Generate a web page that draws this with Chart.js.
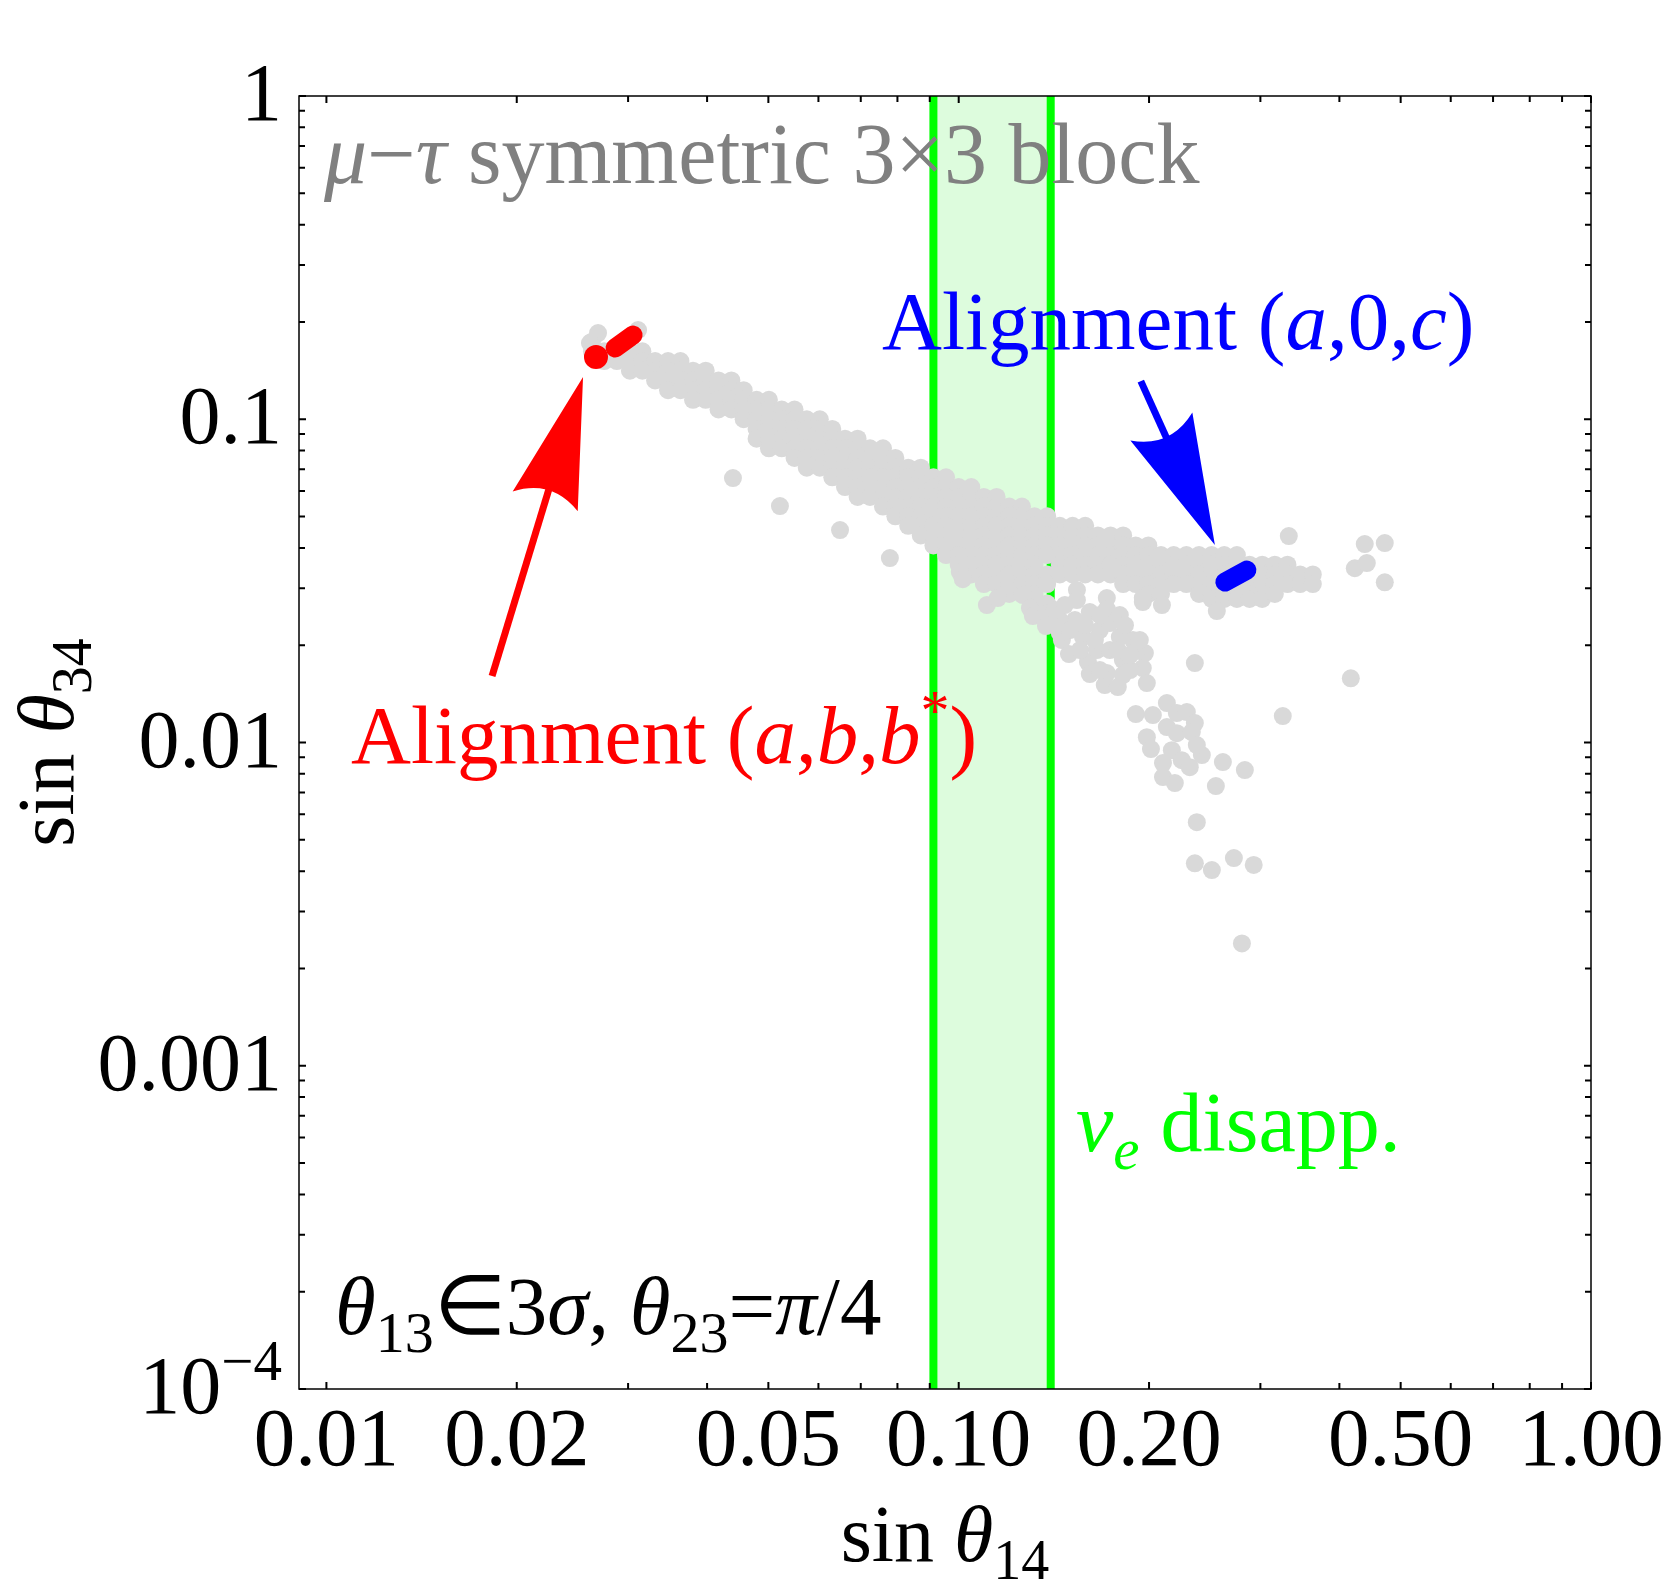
<!DOCTYPE html>
<html>
<head>
<meta charset="utf-8">
<script src="https://cdn.jsdelivr.net/npm/chart.js@4.4.0/dist/chart.umd.min.js"></script>
<style>
  html, body { margin: 0; padding: 0; background: #fff; }
  #scatter-chart { display: block; }
</style>
</head>
<body>
<canvas id="scatter-chart" width="1667" height="1586"></canvas>
<script>
// ---- axes ----
const xRange = [0.00905, 1.0];
const yRange = [1e-4, 1];
const xMajorTicks = [0.01, 0.02, 0.05, 0.1, 0.2, 0.5, 1.0];
const xTickLabels = ['0.01', '0.02', '0.05', '0.10', '0.20', '0.50', '1.00'];
const xMinorTicks = [0.03, 0.04, 0.06, 0.07, 0.08, 0.09, 0.3, 0.4, 0.6, 0.7, 0.8, 0.9];
const yMajorTicks = [1e-4, 0.001, 0.01, 0.1, 1];
const yTickLabels = ['10^−4', '0.001', '0.01', '0.1', '1'];
const yMinorTicks = [
  0.0002, 0.0003, 0.0004, 0.0005, 0.0006, 0.0007, 0.0008, 0.0009,
  0.002, 0.003, 0.004, 0.005, 0.006, 0.007, 0.008, 0.009,
  0.02, 0.03, 0.04, 0.05, 0.06, 0.07, 0.08, 0.09,
  0.2, 0.3, 0.4, 0.5, 0.6, 0.7, 0.8, 0.9
];

// nu_e disappearance band (sin theta14)
const disappBand = [0.0912, 0.1398];

// ---- scan points (grey) ----
// main band: columns of sin th14 with the sin th34 values covered in each
const bandX = [0.0263, 0.0275, 0.0288, 0.0302, 0.0316, 0.0331, 0.0347, 0.0363, 0.0380, 0.0398,
  0.0417, 0.0437, 0.0457, 0.0479, 0.0501, 0.0525, 0.0550, 0.0575, 0.0603, 0.0631,
  0.0661, 0.0692, 0.0724, 0.0759, 0.0794, 0.0832, 0.0871, 0.0912, 0.0955, 0.1000,
  0.1047, 0.1096, 0.1148, 0.1202, 0.1259, 0.1318, 0.1380, 0.1445, 0.1514, 0.1585,
  0.1660, 0.1738, 0.1820, 0.1905, 0.1995, 0.2089, 0.2188, 0.2291, 0.2399, 0.2512,
  0.2630, 0.2754, 0.2884, 0.3020, 0.3162, 0.3311, 0.3467, 0.3631];
const bandY = [
  [0.1738, 0.1622],
  [0.1622, 0.1514],
  [0.1622, 0.1514],
  [0.1622, 0.1514, 0.1413],
  [0.1622, 0.1514, 0.1413],
  [0.1514, 0.1413, 0.1318],
  [0.1514, 0.1413, 0.1318, 0.1230],
  [0.1514, 0.1413, 0.1318, 0.1230],
  [0.1413, 0.1318, 0.1230, 0.1148],
  [0.1413, 0.1318, 0.1230, 0.1148],
  [0.1318, 0.1230, 0.1148, 0.1072],
  [0.1318, 0.1230, 0.1148, 0.1072],
  [0.1230, 0.1148, 0.1072, 0.1000],
  [0.1148, 0.1072, 0.1000, 0.0933, 0.0871],
  [0.1148, 0.1072, 0.1000, 0.0933, 0.0871, 0.0813],
  [0.1072, 0.1000, 0.0933, 0.0871, 0.0813],
  [0.1072, 0.1000, 0.0933, 0.0871, 0.0813, 0.0759],
  [0.1000, 0.0933, 0.0871, 0.0813, 0.0759, 0.0708],
  [0.1000, 0.0933, 0.0871, 0.0813, 0.0759, 0.0708],
  [0.0933, 0.0871, 0.0813, 0.0759, 0.0708, 0.0661],
  [0.0871, 0.0813, 0.0759, 0.0708, 0.0661, 0.0617],
  [0.0871, 0.0813, 0.0759, 0.0708, 0.0661, 0.0617, 0.0575],
  [0.0813, 0.0759, 0.0708, 0.0661, 0.0617, 0.0575],
  [0.0813, 0.0759, 0.0708, 0.0661, 0.0617, 0.0575, 0.0537],
  [0.0759, 0.0708, 0.0661, 0.0617, 0.0575, 0.0537, 0.0501],
  [0.0708, 0.0661, 0.0617, 0.0575, 0.0537, 0.0501, 0.0468],
  [0.0708, 0.0661, 0.0617, 0.0575, 0.0537, 0.0501, 0.0468, 0.0437],
  [0.0661, 0.0617, 0.0575, 0.0537, 0.0501, 0.0468, 0.0437, 0.0407],
  [0.0661, 0.0617, 0.0575, 0.0537, 0.0501, 0.0468, 0.0437, 0.0407, 0.0380],
  [0.0617, 0.0575, 0.0537, 0.0501, 0.0468, 0.0437, 0.0407, 0.0380, 0.0355],
  [0.0617, 0.0575, 0.0537, 0.0501, 0.0468, 0.0437, 0.0407, 0.0380, 0.0355, 0.0331],
  [0.0575, 0.0537, 0.0501, 0.0468, 0.0437, 0.0407, 0.0380, 0.0355, 0.0331, 0.0309],
  [0.0575, 0.0537, 0.0501, 0.0468, 0.0437, 0.0407, 0.0380, 0.0355, 0.0331, 0.0309],
  [0.0537, 0.0501, 0.0468, 0.0437, 0.0407, 0.0380, 0.0355, 0.0331, 0.0309, 0.0288],
  [0.0537, 0.0501, 0.0468, 0.0437, 0.0407, 0.0380, 0.0355, 0.0331, 0.0309, 0.0288],
  [0.0501, 0.0468, 0.0437, 0.0407, 0.0380, 0.0355, 0.0331, 0.0309, 0.0288, 0.0269],
  [0.0501, 0.0468, 0.0437, 0.0407, 0.0380, 0.0331, 0.0309, 0.0269, 0.0251],
  [0.0468, 0.0437, 0.0407, 0.0380, 0.0355, 0.0331],
  [0.0468, 0.0437, 0.0407, 0.0380, 0.0355, 0.0331],
  [0.0468, 0.0437, 0.0407, 0.0380, 0.0355, 0.0331],
  [0.0437, 0.0407, 0.0380, 0.0355, 0.0331],
  [0.0437, 0.0407, 0.0380, 0.0355, 0.0331],
  [0.0437, 0.0407, 0.0380, 0.0355, 0.0331, 0.0309],
  [0.0407, 0.0380, 0.0355, 0.0331, 0.0309],
  [0.0407, 0.0380, 0.0355, 0.0331, 0.0309, 0.0288],
  [0.0380, 0.0355, 0.0331, 0.0309, 0.0288],
  [0.0380, 0.0355, 0.0331, 0.0309],
  [0.0380, 0.0355, 0.0331, 0.0309],
  [0.0380, 0.0355, 0.0331, 0.0309, 0.0288],
  [0.0380, 0.0355, 0.0331, 0.0309, 0.0288, 0.0278],
  [0.0380, 0.0355, 0.0331, 0.0309, 0.0288, 0.0278],
  [0.0380, 0.0355, 0.0331, 0.0309, 0.0288, 0.0278],
  [0.0355, 0.0331, 0.0309, 0.0288, 0.0278],
  [0.0355, 0.0331, 0.0309, 0.0288, 0.0278],
  [0.0355, 0.0331, 0.0309, 0.0288],
  [0.0355, 0.0331, 0.0309],
  [0.0331, 0.0309],
  [0.0331, 0.0309]
];
// lower branch and the tail going down
const tailPoints = [
  [0.1004, 0.03366], [0.1015, 0.03201], [0.1108, 0.02661], [0.1153, 0.02797], [0.1263, 0.02858],
  [0.1296, 0.02605], [0.1310, 0.02461], [0.1359, 0.02443], [0.1374, 0.02291], [0.1538, 0.02962],
  [0.1538, 0.02758], [0.1715, 0.02797], [0.1715, 0.02587], [0.1612, 0.02532], [0.1456, 0.02074],
  [0.1494, 0.01877], [0.1445, 0.02181], [0.1572, 0.02119], [0.1672, 0.02228], [0.1734, 0.02341],
  [0.1798, 0.02119], [0.1886, 0.02074], [0.1970, 0.01891], [0.1955, 0.01699], [0.1984, 0.01527],
  [0.1601, 0.01773], [0.1715, 0.01640], [0.1702, 0.01505], [0.1785, 0.01484], [0.1818, 0.01799],
  [0.1654, 0.01931], [0.1955, 0.02720], [0.2096, 0.02661], [0.1906, 0.01918], [0.1612, 0.01628],
  [0.1527, 0.02391], [0.1798, 0.02478], [0.1555, 0.01931], [0.1734, 0.01931], [0.1866, 0.01675],
  [0.1445, 0.02391], [0.1642, 0.02074], [0.1832, 0.02307], [0.1934, 0.02074], [0.1419, 0.02569],
  [0.1955, 0.02797], [0.1472, 0.02661], [0.1583, 0.02307], [0.1672, 0.02478], [0.1785, 0.01931],
  [0.1866, 0.01864], [0.1672, 0.01675], [0.1818, 0.01616], [0.1499, 0.02228],
  [0.1906, 0.01224], [0.2028, 0.01216], [0.2134, 0.01324], [0.2213, 0.01233], [0.2295, 0.01242],
  [0.2363, 0.01148], [0.2134, 0.01116], [0.2213, 0.01069], [0.2337, 0.01077], [0.1984, 0.01039],
  [0.2014, 0.00954], [0.2173, 0.00947], [0.2253, 0.00882], [0.2320, 0.00839], [0.2424, 0.00914],
  [0.2380, 0.00982], [0.2104, 0.00864], [0.2104, 0.00782], [0.2197, 0.00749], [0.2617, 0.00870],
  [0.2835, 0.00822], [0.2551, 0.00733], [0.2380, 0.00567], [0.2363, 0.00423], [0.2514, 0.00403],
  [0.2724, 0.00439], [0.2928, 0.00418], [0.2805, 0.00239], [0.2560, 0.02551], [0.2363, 0.01761]
];
const outlierPoints = [
  [0.3327, 0.0435], [0.4387, 0.0411], [0.4719, 0.0414], [0.4231, 0.0346], [0.4420, 0.0359],
  [0.4719, 0.0313], [0.4170, 0.0158], [0.3255, 0.01207],
  [0.04395, 0.06577], [0.05215, 0.05387], [0.06491, 0.04543], [0.07783, 0.03720],
  [0.02689, 0.1848], [0.03111, 0.1888], [0.02611, 0.1721]
];

// alignment solutions
const redDot = [0.02669, 0.1558];
const redBar = [[0.02861, 0.1661], [0.03055, 0.1822]];
const blueBar = [[0.2636, 0.03136], [0.2856, 0.03415]];

// arrows: [tail, tip]
const redArrow = [[0.01828, 0.01605], [0.02546, 0.1351]];
const blueArrow = [[0.1941, 0.1312], [0.2542, 0.04081]];

// ---- build datasets ----
const greyData = [];
bandX.forEach((x, i) => bandY[i].forEach(y => greyData.push({ x: x, y: y })));
tailPoints.concat(outlierPoints).forEach(p => greyData.push({ x: p[0], y: p[1] }));
const toXY = arr => arr.map(p => ({ x: p[0], y: p[1] }));

const FONT = '"Liberation Serif", "Times New Roman", serif';

function drawRich(ctx, segs, x, y, size, color, align) {
  const fontOf = s => (s.it ? 'italic ' : '') + Math.round((s.sub || s.sup) ? size * 0.7 : size) + 'px ' + FONT;
  let w = 0;
  segs.forEach(s => { ctx.font = fontOf(s); w += ctx.measureText(s.t).width; });
  let cx = x;
  if (align === 'center') cx = x - w / 2;
  if (align === 'right') cx = x - w;
  ctx.fillStyle = color;
  ctx.textAlign = 'left';
  ctx.textBaseline = 'alphabetic';
  segs.forEach(s => {
    ctx.font = fontOf(s);
    let dy = 0;
    if (s.sub) dy = size * 0.22;
    if (s.sup) dy = -size * 0.4;
    ctx.fillText(s.t, cx, y + dy);
    cx += ctx.measureText(s.t).width;
  });
}

function drawArrow(ctx, x0, y0, x1, y1, color) {
  const headLen = 130, headHalf = 34;
  const len = Math.hypot(x1 - x0, y1 - y0);
  ctx.save();
  ctx.translate(x1, y1);
  ctx.rotate(Math.atan2(y1 - y0, x1 - x0));
  ctx.strokeStyle = color;
  ctx.fillStyle = color;
  ctx.lineWidth = 7;
  ctx.beginPath();
  ctx.moveTo(-len, 0);
  ctx.lineTo(-headLen * 0.8, 0);
  ctx.stroke();
  ctx.beginPath();
  ctx.moveTo(0, 0);
  ctx.lineTo(-headLen, -headHalf);
  ctx.quadraticCurveTo(-headLen * 0.82, 0, -headLen, headHalf);
  ctx.closePath();
  ctx.fill();
  ctx.restore();
}

const bandPlugin = {
  id: 'band',
  beforeDatasetsDraw(chart) {
    const { ctx, chartArea, scales } = chart;
    const x0 = scales.x.getPixelForValue(disappBand[0]);
    const x1 = scales.x.getPixelForValue(disappBand[1]);
    ctx.save();
    ctx.fillStyle = '#ddfcdd';
    ctx.fillRect(x0, chartArea.top, x1 - x0, chartArea.bottom - chartArea.top);
    ctx.restore();
  }
};

const framePlugin = {
  id: 'frame',
  afterDatasetsDraw(chart) {
    const { ctx, chartArea: a, scales } = chart;
    const px = v => scales.x.getPixelForValue(v);
    const py = v => scales.y.getPixelForValue(v);
    drawArrow(ctx, px(redArrow[0][0]), py(redArrow[0][1]), px(redArrow[1][0]), py(redArrow[1][1]), '#ff0000');
    drawArrow(ctx, px(blueArrow[0][0]), py(blueArrow[0][1]), px(blueArrow[1][0]), py(blueArrow[1][1]), '#0000ff');

    ctx.save();
    ctx.strokeStyle = '#000';
    ctx.lineWidth = 1.5;
    ctx.strokeRect(a.left, a.top, a.right - a.left, a.bottom - a.top);
    ctx.lineWidth = 2;
    ctx.beginPath();
    const tickX = (v, len) => {
      const x = px(v);
      ctx.moveTo(x, a.bottom); ctx.lineTo(x, a.bottom - len);
      ctx.moveTo(x, a.top); ctx.lineTo(x, a.top + len);
    };
    const tickY = (v, len) => {
      const y = py(v);
      ctx.moveTo(a.left, y); ctx.lineTo(a.left + len, y);
      ctx.moveTo(a.right, y); ctx.lineTo(a.right - len, y);
    };
    xMajorTicks.forEach(v => tickX(v, 7));
    xMinorTicks.forEach(v => tickX(v, 6));
    yMajorTicks.forEach(v => tickY(v, 7));
    yMinorTicks.forEach(v => tickY(v, 6));
    ctx.stroke();
    ctx.restore();
  },
  afterDraw(chart) {
    const { ctx, chartArea: a, scales } = chart;
    const px = v => scales.x.getPixelForValue(v);
    const py = v => scales.y.getPixelForValue(v);
    ctx.save();
    // tick labels
    xMajorTicks.forEach((v, i) => drawRich(ctx, [{ t: xTickLabels[i] }], px(v), a.bottom + 76, 83, '#000', 'center'));
    yMajorTicks.forEach((v, i) => {
      const parts = yTickLabels[i].split('^');
      const segs = [{ t: parts[0] }];
      if (parts[1]) segs.push({ t: parts[1], sup: true });
      drawRich(ctx, segs, a.left - 17, py(v) + 24, 82, '#000', 'right');
    });
    // axis titles
    drawRich(ctx, [{ t: 'sin ' }, { t: 'θ', it: true }, { t: '14', sub: true }], (a.left + a.right) / 2, a.bottom + 172, 80, '#000', 'center');
    ctx.save();
    ctx.translate(a.left - 226, (a.top + a.bottom) / 2);
    ctx.rotate(-Math.PI / 2);
    drawRich(ctx, [{ t: 'sin ' }, { t: 'θ', it: true }, { t: '34', sub: true }], 0, 0, 80, '#000', 'center');
    ctx.restore();
    // annotations
    drawRich(ctx, [{ t: 'μ', it: true }, { t: '−' }, { t: 'τ', it: true }, { t: ' symmetric 3×3 block' }],
      a.left + 25, a.top + 87, 86, '#808080', 'left');
    drawRich(ctx, [{ t: 'Alignment (' }, { t: 'a', it: true }, { t: ',0,' }, { t: 'c', it: true }, { t: ')' }],
      a.left + 583, a.top + 253, 83, '#0000ff', 'left');
    drawRich(ctx, [{ t: 'Alignment (' }, { t: 'a', it: true }, { t: ',' }, { t: 'b', it: true }, { t: ',' },
      { t: 'b', it: true }, { t: '*', sup: true }, { t: ')' }],
      a.left + 52, a.top + 667, 83, '#ff0000', 'left');
    drawRich(ctx, [{ t: 'ν', it: true }, { t: 'e', it: true, sub: true }, { t: ' disapp.' }],
      a.left + 777, a.top + 1055, 84, '#00ff00', 'left');
    drawRich(ctx, [{ t: 'θ', it: true }, { t: '13', sub: true }, { t: '∈3' }, { t: 'σ', it: true }, { t: ', ' },
      { t: 'θ', it: true }, { t: '23', sub: true }, { t: '=' }, { t: 'π', it: true }, { t: '/4' }],
      a.left + 36, a.top + 1238, 83, '#000', 'left');
    ctx.restore();
  }
};

const canvas1 = document.querySelector('#scatter-chart');
const scatterChart = new Chart(canvas1, {
  type: 'scatter',
  data: {
    datasets: [
      {
        type: 'line', data: toXY(redBar), borderColor: '#ff0000', borderWidth: 19,
        borderCapStyle: 'round', pointRadius: 0, showLine: true, fill: false, order: 0
      },
      {
        type: 'line', data: toXY(blueBar), borderColor: '#0000ff', borderWidth: 19,
        borderCapStyle: 'round', pointRadius: 0, showLine: true, fill: false, order: 0
      },
      {
        data: [{ x: redDot[0], y: redDot[1] }], pointRadius: 12, pointBorderWidth: 0,
        pointBackgroundColor: '#ff0000', order: 0
      },
      {
        data: greyData, pointRadius: 9, pointBorderWidth: 0,
        pointBackgroundColor: '#d9d9d9', order: 1
      },
      {
        type: 'line', data: [{ x: disappBand[0], y: yRange[0] }, { x: disappBand[0], y: yRange[1] }],
        borderColor: '#00ff00', borderWidth: 8, pointRadius: 0, fill: false, order: 2
      },
      {
        type: 'line', data: [{ x: disappBand[1], y: yRange[0] }, { x: disappBand[1], y: yRange[1] }],
        borderColor: '#00ff00', borderWidth: 8, pointRadius: 0, fill: false, order: 2
      }
    ]
  },
  options: {
    responsive: false,
    animation: false,
    devicePixelRatio: 1,
    layout: { padding: { left: 299, right: 76, top: 96, bottom: 197 } },
    plugins: {
      legend: { display: false },
      tooltip: { enabled: false }
    },
    scales: {
      x: { type: 'logarithmic', min: xRange[0], max: xRange[1], display: false },
      y: { type: 'logarithmic', min: yRange[0], max: yRange[1], display: false }
    }
  },
  plugins: [bandPlugin, framePlugin]
});
</script>
</body>
</html>
